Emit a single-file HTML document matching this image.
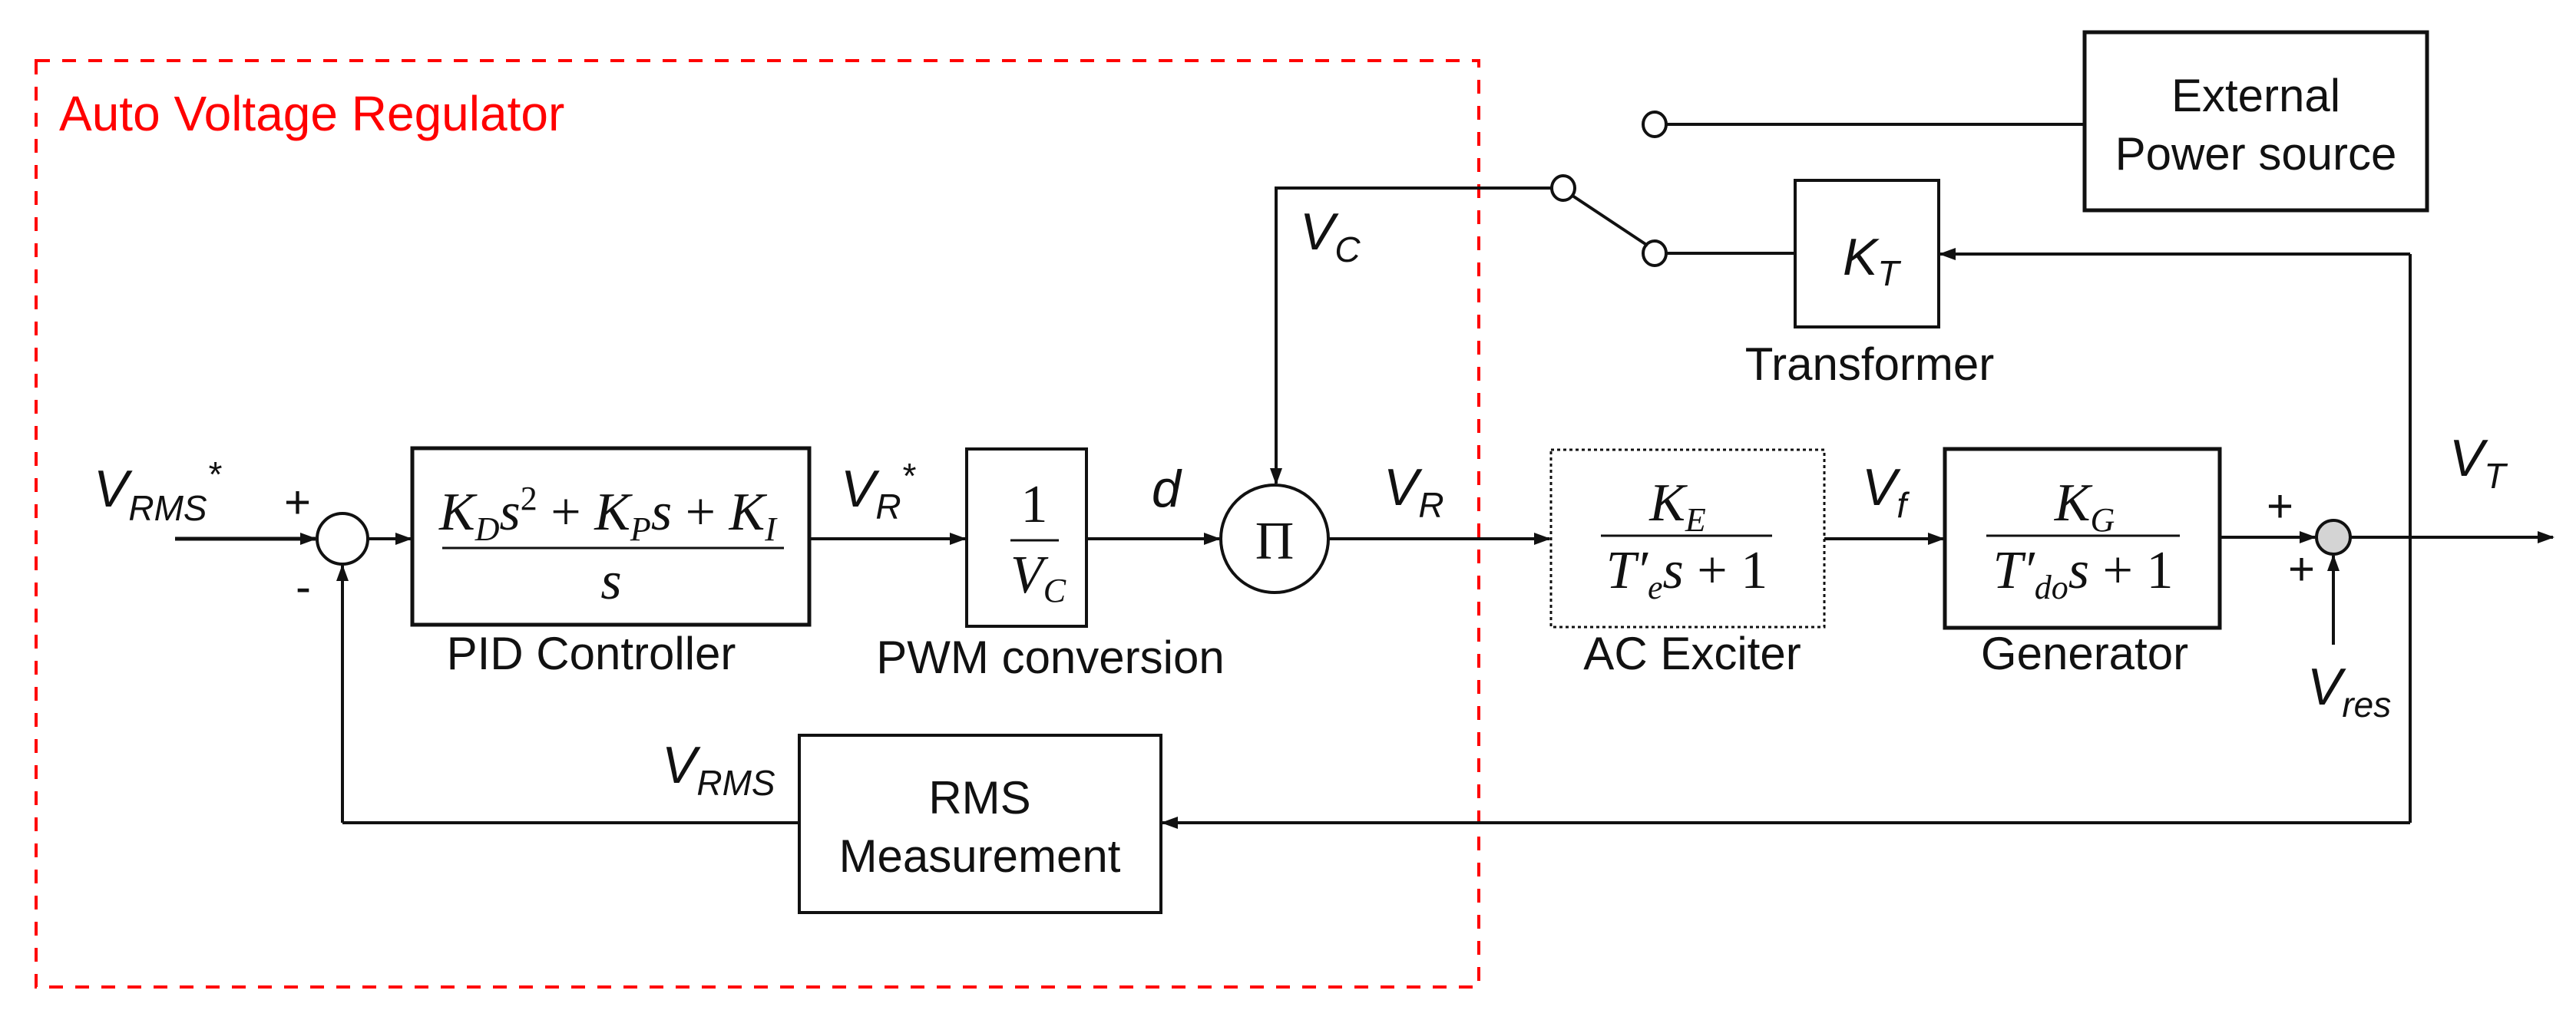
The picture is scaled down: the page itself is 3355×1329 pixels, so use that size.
<!DOCTYPE html>
<html><head><meta charset="utf-8"><style>
html,body{margin:0;padding:0;background:#fff;}
svg{display:block;}
.s{font-family:"Liberation Sans",sans-serif;font-size:60px;fill:#111;}
.v{font-family:"Liberation Sans",sans-serif;font-style:italic;font-size:68px;fill:#111;}
.vs{font-family:"Liberation Sans",sans-serif;font-style:italic;font-size:46px;fill:#111;}
.m{font-family:"Liberation Serif",serif;font-style:italic;font-size:70px;fill:#111;}
.mn{font-family:"Liberation Serif",serif;font-size:70px;fill:#111;}
</style></head><body>
<svg width="3355" height="1329" viewBox="0 0 3355 1329" xmlns="http://www.w3.org/2000/svg">
<defs>
<marker id="a" markerWidth="22" markerHeight="16" refX="20" refY="8" orient="auto" markerUnits="userSpaceOnUse" viewBox="0 0 22 16">
<path d="M0,0 L22,8 L0,16 z" fill="#111"/></marker>
</defs>
<rect x="47" y="79" width="1879" height="1207" fill="none" stroke="#f00" stroke-width="4" stroke-dasharray="18,16"/>
<text x="77" y="170" font-family="Liberation Sans,sans-serif" font-size="64" fill="#f00">Auto Voltage Regulator</text>

<g stroke="#111" stroke-width="4" fill="none">
<line x1="228" y1="702" x2="411" y2="702" marker-end="url(#a)" stroke-width="5"/>
<circle cx="446" cy="702" r="33"/>
<line x1="479" y1="702" x2="535" y2="702" marker-end="url(#a)"/>
<rect x="537" y="584" width="517" height="230" stroke-width="5"/>
<line x1="576" y1="714" x2="1021" y2="714" stroke-width="3"/>
<line x1="1054" y1="702" x2="1257" y2="702" marker-end="url(#a)"/>
<rect x="1259" y="585" width="156" height="231"/>
<line x1="1316" y1="704" x2="1379" y2="704" stroke-width="3"/>
<line x1="1415" y1="702" x2="1588" y2="702" marker-end="url(#a)"/>
<circle cx="1660" cy="702" r="70"/>
<line x1="1662" y1="245" x2="1662" y2="630" marker-end="url(#a)"/>
<line x1="1660" y1="245" x2="2020" y2="245"/>
<ellipse cx="2036" cy="245" rx="15" ry="16"/>
<ellipse cx="2155" cy="330" rx="15" ry="16"/>
<ellipse cx="2155" cy="162" rx="15" ry="16"/>
<line x1="2048" y1="255" x2="2146" y2="320"/>
<line x1="2170" y1="162" x2="2715" y2="162"/>
<line x1="2170" y1="330" x2="2338" y2="330"/>
<rect x="2715" y="42" width="446" height="232" stroke-width="5"/>
<rect x="2338" y="235" width="187" height="191"/>
<line x1="3139" y1="331" x2="2527" y2="331" marker-end="url(#a)"/>
<line x1="3139" y1="331" x2="3139" y2="1072"/>
<line x1="1730" y1="702" x2="2018" y2="702" marker-end="url(#a)"/>
<rect x="2020" y="586" width="356" height="231" stroke-dasharray="4,4" stroke-width="3"/>
<line x1="2085" y1="698" x2="2308" y2="698" stroke-width="3"/>
<line x1="2376" y1="702" x2="2531" y2="702" marker-end="url(#a)"/>
<rect x="2533" y="585" width="358" height="233" stroke-width="5"/>
<line x1="2587" y1="698" x2="2839" y2="698" stroke-width="3"/>
<line x1="2891" y1="700" x2="3015" y2="700" marker-end="url(#a)"/>
<circle cx="3039" cy="700" r="22" fill="#d4d4d4"/>
<line x1="3039" y1="840" x2="3039" y2="724" marker-end="url(#a)"/>
<line x1="3061" y1="700" x2="3325" y2="700" marker-end="url(#a)"/>
<line x1="3139" y1="1072" x2="1514" y2="1072" marker-end="url(#a)"/>
<rect x="1041" y="958" width="471" height="231"/>
<line x1="1041" y1="1072" x2="446" y2="1072"/>
<line x1="446" y1="1072" x2="446" y2="737" marker-end="url(#a)"/>
</g>

<text class="v" x="122" y="660">V<tspan class="vs" dy="18">RMS</tspan><tspan class="vs" dy="-44">*</tspan></text>
<text class="s" x="370" y="675">+</text>
<text class="s" x="385" y="785">-</text>
<text class="m" x="572" y="690">K<tspan font-size="44" dy="14">D</tspan><tspan dy="-14">s</tspan><tspan font-size="44" dy="-26" font-style="normal">2</tspan><tspan dy="26" font-style="normal"> + </tspan>K<tspan font-size="44" dy="14">P</tspan><tspan dy="-14">s</tspan><tspan font-style="normal"> + </tspan>K<tspan font-size="44" dy="14">I</tspan></text>
<text class="m" x="796" y="780" text-anchor="middle">s</text>
<text class="s" x="770" y="872" text-anchor="middle">PID Controller</text>
<text class="v" x="1095" y="660">V<tspan class="vs" dy="16">R</tspan><tspan class="vs" dy="-40">*</tspan></text>
<text class="mn" x="1347" y="680" text-anchor="middle">1</text>
<text class="m" x="1316" y="772">V<tspan font-size="44" dy="12">C</tspan></text>
<text class="s" x="1368" y="877" text-anchor="middle">PWM conversion</text>
<text class="v" x="1500" y="660">d</text>
<text class="mn" x="1660" y="728" text-anchor="middle" font-size="72">Π</text>
<text class="v" x="1693" y="325">V<tspan class="vs" dy="16">C</tspan></text>
<text class="v" x="1802" y="658">V<tspan class="vs" dy="16">R</tspan></text>
<text class="s" x="2938" y="145" text-anchor="middle">External</text>
<text class="s" x="2938" y="221" text-anchor="middle">Power source</text>
<text class="v" x="2400" y="358">K<tspan class="vs" dy="14">T</tspan></text>
<text class="s" x="2435" y="495" text-anchor="middle">Transformer</text>
<text class="m" x="2185" y="678" text-anchor="middle">K<tspan font-size="44" dy="14">E</tspan></text>
<text class="m" x="2197" y="766" text-anchor="middle">T′<tspan font-size="44" dy="14">e</tspan><tspan dy="-14">s</tspan><tspan font-style="normal"> + 1</tspan></text>
<text class="s" x="2204" y="872" text-anchor="middle">AC Exciter</text>
<text class="v" x="2425" y="658">V<tspan class="vs" dy="16">f</tspan></text>
<text class="m" x="2715" y="678" text-anchor="middle">K<tspan font-size="44" dy="14">G</tspan></text>
<text class="m" x="2713" y="766" text-anchor="middle">T′<tspan font-size="44" dy="14">do</tspan><tspan dy="-14">s</tspan><tspan font-style="normal"> + 1</tspan></text>
<text class="s" x="2715" y="872" text-anchor="middle">Generator</text>
<text class="s" x="2952" y="680">+</text>
<text class="s" x="2980" y="762">+</text>
<text class="v" x="3005" y="918">V<tspan class="vs" dy="16">res</tspan></text>
<text class="v" x="3190" y="620">V<tspan class="vs" dy="16">T</tspan></text>
<text class="v" x="862" y="1020">V<tspan class="vs" dy="16">RMS</tspan></text>
<text class="s" x="1276" y="1060" text-anchor="middle">RMS</text>
<text class="s" x="1276" y="1136" text-anchor="middle">Measurement</text>
</svg>
</body></html>
